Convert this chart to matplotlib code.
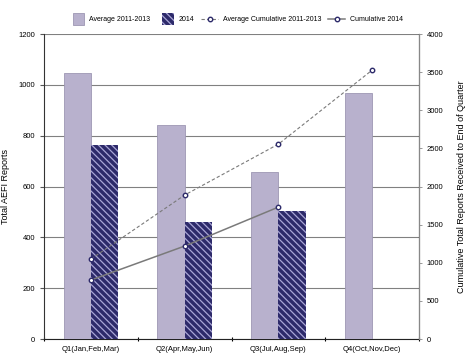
import matplotlib.pyplot as plt
import matplotlib.patches as mpatches
from matplotlib.container import BarContainer
from matplotlib.legend_handler import HandlerPatch, update_from_first_child
import numpy as np

plt.rcParams['font.family'] = ['Liberation Sans', 'DejaVu Sans']
plt.rcParams['hatch.linewidth'] = 0.9

quarters = ['Q1(Jan,Feb,Mar)', 'Q2(Apr,May,Jun)', 'Q3(Jul,Aug,Sep)', 'Q4(Oct,Nov,Dec)']
avg_2011_2013 = [1048, 843, 657, 968]
reports_2014 = [764, 460, 504]
avg_cumulative = [1049, 1889, 2557, 3528]
cumulative_2014 = [774, 1220, 1731]

x = np.arange(len(quarters))
w = 0.29

fig = plt.figure(figsize=(4.74, 3.63), dpi=100)
ax = fig.add_axes([0.093, 0.066, 0.791, 0.84])
ax2 = ax.twinx()

ax.set_zorder(1)
ax2.set_zorder(2)
ax.patch.set_visible(False)

ax.bar(x - w/2, avg_2011_2013, w, color='#b8b1cd', edgecolor='#9d97b3', linewidth=0.6,
       label='Average 2011-2013', zorder=3)
ax.bar(x[:3] + w/2, reports_2014, w, color='#2d2a6a', edgecolor='#a9a5d6', hatch='\\\\\\\\\\',
       linewidth=0, label='2014', zorder=3)

ax2.plot(x, avg_cumulative, color='#7a7a7a', linestyle='--', linewidth=0.8,
         dashes=(3, 2), marker='o', markersize=3.2, markerfacecolor='white',
         markeredgecolor='#2d2a6a', markeredgewidth=1.0, label='Average Cumulative 2011-2013')
ax2.plot(x[:3], cumulative_2014, color='#7a7a7a', linestyle='-', linewidth=1.1,
         marker='o', markersize=3.2, markerfacecolor='white',
         markeredgecolor='#2d2a6a', markeredgewidth=1.0, label='Cumulative 2014')

ax.set_xlim(-0.5, 3.5)
ax.set_ylim(0, 1200)
ax2.set_ylim(0, 4000)
ax.set_yticks(np.arange(0, 1201, 200))
ax2.set_yticks(np.arange(0, 4001, 500))

ax.yaxis.grid(True, color='#808080', linewidth=0.8, zorder=0)
ax.set_axisbelow(True)

ax.set_xticks(x)
ax.set_xticklabels(quarters)
ax.set_xticks(np.arange(-0.5, 3.6, 1), minor=True)
ax.tick_params(axis='x', which='major', length=0, labelsize=5.5, pad=5)
ax.tick_params(axis='x', which='minor', length=3, direction='inout', width=0.8)
ax.tick_params(axis='y', labelsize=5.5, length=3, direction='out', width=0.8, color='#555555')
ax2.tick_params(axis='y', labelsize=5.5, length=2, direction='out', width=0.6, color='#888888')

ax.spines['top'].set_visible(False)
ax2.spines['top'].set_visible(False)
ax.spines['left'].set_color('#333333')
ax.spines['bottom'].set_color('#222222')
ax2.spines['right'].set_color('#888888')
ax2.spines['left'].set_visible(False)
ax2.spines['bottom'].set_visible(False)

ax.set_ylabel('Total AEFI Reports', fontsize=6.5, labelpad=6)
ax2.set_ylabel('Cumulative Total Reports Received to End of Quarter', fontsize=6.5, labelpad=10)


# square legend boxes for the bars, drawn at the right end of the handle slot
def square_patch(legend, orig_handle, xdescent, ydescent, width, height, fontsize):
    s = height * 2.4
    return mpatches.Rectangle((width - s - xdescent, -ydescent + height/2 - s/2), s, s)


h1, l1 = ax.get_legend_handles_labels()
h2, l2 = ax2.get_legend_handles_labels()
sq = HandlerPatch(patch_func=square_patch, update_func=update_from_first_child)
fig.legend(h1 + h2, l1 + l2, loc='center', bbox_to_anchor=(0.496, 0.945), ncol=4,
           frameon=False, fontsize=5.0, handlelength=2.4, columnspacing=1.0,
           handletextpad=0.7, handler_map={BarContainer: sq})

fig.savefig('out.png', dpi=100)
